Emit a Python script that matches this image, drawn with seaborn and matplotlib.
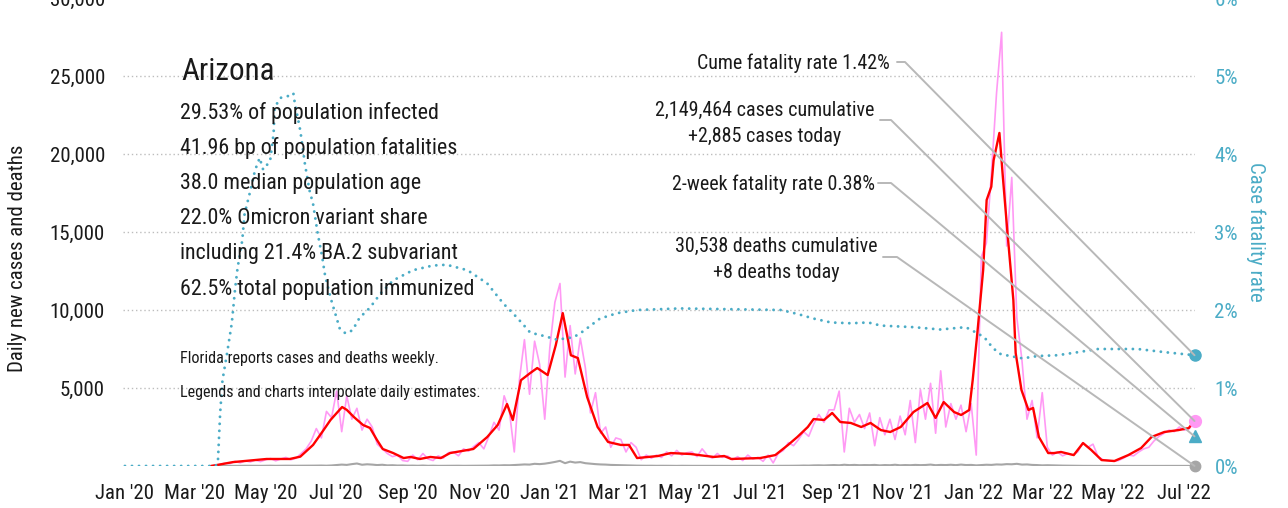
import matplotlib
matplotlib.use("Agg")
import matplotlib.pyplot as plt
import matplotlib.dates as mdates
import matplotlib.font_manager as fm
from matplotlib.lines import Line2D
import numpy as np
import pandas as pd
import seaborn as sns

# ---------------- data ----------------
# 7-day average of daily new cases (red line), key points
red_dates = ["2020-03-15", "2020-03-20", "2020-04-03", "2020-05-02", "2020-05-22", "2020-05-31",
             "2020-06-11", "2020-06-20", "2020-06-26", "2020-07-02", "2020-07-06", "2020-07-10",
             "2020-07-16", "2020-07-24", "2020-07-30", "2020-08-05", "2020-08-10", "2020-08-19",
             "2020-08-28", "2020-09-03", "2020-09-11", "2020-09-20", "2020-09-29", "2020-10-07",
             "2020-10-27", "2020-11-08", "2020-11-17", "2020-11-25", "2020-11-30", "2020-12-07",
             "2020-12-15", "2020-12-21", "2020-12-30", "2021-01-06", "2021-01-12", "2021-01-16",
             "2021-01-19", "2021-01-25", "2021-02-02", "2021-02-11", "2021-02-20", "2021-03-03",
             "2021-03-10", "2021-03-17", "2021-04-04", "2021-04-15", "2021-05-02", "2021-05-22",
             "2021-05-31", "2021-06-06", "2021-07-01", "2021-07-14", "2021-07-25", "2021-08-02",
             "2021-08-11", "2021-08-16", "2021-08-25", "2021-09-01", "2021-09-08", "2021-09-17",
             "2021-09-26", "2021-10-04", "2021-10-13", "2021-10-21", "2021-10-30", "2021-11-10",
             "2021-11-22", "2021-11-29", "2021-12-06", "2021-12-15", "2021-12-21", "2021-12-28",
             "2021-12-31", "2022-01-04", "2022-01-09", "2022-01-12", "2022-01-16", "2022-01-18",
             "2022-01-23", "2022-01-26", "2022-01-30", "2022-02-04", "2022-02-06", "2022-02-11",
             "2022-02-17", "2022-02-21", "2022-02-26", "2022-03-06", "2022-03-11", "2022-03-17",
             "2022-03-28", "2022-04-05", "2022-04-12", "2022-04-21", "2022-05-02", "2022-05-14",
             "2022-05-25", "2022-06-03", "2022-06-14", "2022-06-26", "2022-07-05", "2022-07-10"]
red_cases = [0, 60, 250, 450, 450, 600,
             1350, 2300, 2950, 3450, 3780, 3600,
             3150, 2630, 2440, 1670, 1090, 830,
             510, 580, 450, 580, 510, 830,
             1090, 1860, 2630, 3970, 2950, 5500,
             5960, 6280, 5830, 7750, 9800, 8270,
             7100, 6920, 4420, 2500, 1540, 1350,
             1350, 510, 640, 830, 770, 580,
             640, 450, 510, 700, 1350, 1860,
             2500, 3010, 2950, 3400, 2820, 2760,
             2500, 2760, 2300, 2180, 2500, 3460,
             4040, 3080, 4100, 3460, 3270, 3590,
             5510, 8520, 12560, 17050, 17900, 19600,
             21350, 18500, 14900, 10640, 7240, 4870,
             3590, 3720, 1860, 830, 830, 900,
             700, 1470, 1030, 380, 320, 700,
             1150, 1860, 2180, 2300, 2430, 2885]

# raw daily reported cases (pink), ~7 readings per month, 2020-03-14 .. 2022-07-10
raw_start, raw_end = "2020-03-14", "2022-07-10"
raw_cases = [
    0, 30, 100, 180,                                   # Mar 2020 (2nd half)
    150, 300, 200, 330, 260, 380, 280,                 # Apr 2020
    400, 480, 330, 450, 550, 400, 500,                 # May
    800, 1100, 1600, 2400, 1800, 3500, 3100,           # Jun
    4800, 2200, 4500, 3000, 3700, 2300, 3000,          # Jul
    2500, 1400, 1100, 800, 600, 700, 350,              # Aug
    300, 700, 400, 800, 450, 350, 650,                 # Sep
    500, 850, 900, 650, 1100, 950, 1250,               # Oct
    1500, 1100, 1900, 2800, 2300, 4500, 3600,          # Nov
    900, 5500, 8100, 4600, 8000, 6500, 3000,           # Dec
    7600, 10500, 11700, 5700, 9000, 5900, 8200,        # Jan 2021
    6300, 3400, 4700, 2100, 2500, 1200, 1800,          # Feb
    1700, 900, 1500, 1200, 400, 700, 500,              # Mar
    700, 550, 900, 650, 1000, 700, 850,                # Apr
    900, 600, 1100, 700, 500, 800, 550,                # May
    650, 400, 600, 350, 700, 450, 550,                 # Jun
    300, 700, 200, 800, 1000, 1500, 1300,              # Jul
    1700, 2200, 1900, 2700, 3300, 2800, 3600,          # Aug
    3600, 4800, 900, 3700, 2800, 3300, 2400,           # Sep
    3400, 1300, 3100, 2000, 3000, 1700, 3200,          # Oct
    2000, 4200, 1500, 4900, 3000, 5300, 2100,          # Nov
    6100, 2500, 4000, 3000, 3900, 2200, 4000,          # Dec
    700, 13400, 14300, 18800, 23900, 27800, 14100,     # Jan 2022
    18500, 9500, 6800, 3000, 4200, 1800, 4700,         # Feb
    1200, 700, 900, 650, 800, 700, 900,                # Mar
    1500, 1200, 1400, 600, 400, 350, 300,              # Apr
    350, 500, 700, 650, 900, 1100, 1200,               # May
    1600, 1900, 2100, 2300, 2200, 2500, 2300,          # Jun
    2400, 2885]                                        # Jul

# daily deaths (grey), same reading dates as raw cases
raw_deaths = [
    0, 1, 3, 5,
    8, 12, 10, 15, 12, 14, 10,
    15, 20, 12, 18, 20, 15, 17,
    18, 22, 15, 25, 30, 20, 35,
    60, 90, 70, 120, 160, 80, 110,
    90, 60, 80, 40, 50, 30, 35,
    20, 25, 15, 30, 12, 20, 10,
    12, 15, 10, 18, 12, 15, 20,
    20, 30, 25, 40, 35, 50, 45,
    60, 80, 100, 90, 140, 120, 150,
    200, 260, 330, 180, 280, 220, 250,
    180, 150, 120, 100, 90, 70, 60,
    50, 40, 30, 25, 20, 15, 18,
    12, 15, 10, 12, 8, 14, 10,
    10, 12, 8, 10, 9, 12, 8,
    8, 10, 7, 12, 9, 8, 10,
    8, 10, 6, 12, 10, 14, 16,
    20, 30, 25, 40, 45, 35, 50,
    60, 45, 80, 55, 70, 50, 60,
    55, 70, 40, 60, 50, 80, 45,
    60, 50, 70, 55, 65, 90, 50,
    70, 60, 80, 55, 90, 60, 70,
    40, 60, 80, 70, 100, 90, 120,
    110, 140, 90, 100, 70, 60, 40,
    50, 40, 30, 25, 20, 15, 12,
    10, 8, 12, 6, 8, 5, 7,
    5, 6, 4, 8, 5, 6, 4,
    5, 4, 6, 5, 7, 5, 6,
    6, 8]

# case fatality rate (%), right axis
cfr_dates = ["2020-01-01", "2020-03-19", "2020-03-21", "2020-03-23", "2020-03-25", "2020-03-29",
             "2020-04-02", "2020-04-05", "2020-04-07", "2020-04-11", "2020-04-13", "2020-04-18",
             "2020-04-22", "2020-04-26", "2020-04-29", "2020-05-05", "2020-05-08", "2020-05-09",
             "2020-05-14", "2020-05-20", "2020-05-25", "2020-05-26", "2020-05-31", "2020-06-04",
             "2020-06-08", "2020-06-11", "2020-06-15", "2020-06-19", "2020-06-21", "2020-06-26",
             "2020-06-30", "2020-07-04", "2020-07-09", "2020-07-15", "2020-07-21", "2020-07-30",
             "2020-08-08", "2020-08-19", "2020-09-05", "2020-09-22", "2020-10-04", "2020-10-22",
             "2020-11-08", "2020-11-22", "2020-11-30", "2020-12-08", "2020-12-15", "2020-12-26",
             "2021-01-07", "2021-01-21", "2021-01-27", "2021-02-05", "2021-02-13", "2021-02-28",
             "2021-03-17", "2021-04-23", "2021-07-19", "2021-08-02", "2021-08-16", "2021-08-31",
             "2021-09-17", "2021-10-02", "2021-10-13", "2021-11-10", "2021-12-03", "2021-12-25",
             "2022-01-03", "2022-01-10", "2022-01-17", "2022-01-23", "2022-02-01", "2022-02-12",
             "2022-02-25", "2022-03-14", "2022-04-01", "2022-04-18", "2022-05-22", "2022-06-14",
             "2022-07-10"]
cfr_pct = [0.0, 0.0, 0.04, 0.68, 1.10, 1.45,
           1.83, 2.29, 2.54, 2.89, 3.23, 3.53,
           3.79, 3.95, 3.80, 3.91, 4.26, 4.60,
           4.72, 4.74, 4.78, 4.68, 4.30, 3.87,
           3.53, 3.36, 2.98, 2.67, 2.47, 2.16,
           1.96, 1.76, 1.70, 1.74, 1.90, 2.03,
           2.21, 2.38, 2.51, 2.57, 2.58, 2.51,
           2.34, 2.08, 1.96, 1.83, 1.71, 1.67,
           1.62, 1.65, 1.70, 1.80, 1.89, 1.96,
           2.00, 2.02, 2.00, 1.95, 1.89, 1.84,
           1.83, 1.84, 1.80, 1.78, 1.75, 1.78,
           1.71, 1.65, 1.52, 1.44, 1.41, 1.38,
           1.41, 1.42, 1.46, 1.50, 1.50, 1.46,
           1.42]

# end-of-series markers
last_date = "2022-07-10"
last_cases = 2885
last_deaths = 8
cume_cfr = 1.42
two_week_cfr = 0.38

title = "Arizona"
stats_lines = ["29.53% of population infected",
               "41.96 bp of population fatalities",
               "38.0 median population age",
               "22.0% Omicron variant share",
               "including 21.4% BA.2 subvariant",
               "62.5% total population immunized"]
note_lines = ["Florida reports cases and deaths weekly.",
              "Legends and charts interpolate daily estimates."]

left_ticks = [5000, 10000, 15000, 20000, 25000, 30000]
right_ticks = [0, 1, 2, 3, 4, 5, 6]

# ---------------- styling ----------------
sns.set_theme(style="white")
avail = {f.name for f in fm.fontManager.ttflist}
FONT = next((f for f in ["Liberation Sans Narrow", "Roboto Condensed", "DejaVu Sans"] if f in avail),
            "DejaVu Sans")
plt.rcParams["font.family"] = [FONT, "DejaVu Sans"]

PINK = "#ff99f4"
RED = "#ff0000"
GREY = "#a6a6a6"
TEAL = "#4bacc6"
CONN = "#b8b8b8"
TXT = "#1a1a1a"

W, H = 1288, 508
fig = plt.figure(figsize=(W / 100, H / 100), dpi=100)
fig.patch.set_facecolor("white")
ax = fig.add_axes([123 / W, 1 - 466 / H, (1195 - 123) / W, 468 / H])
ax2 = ax.twinx()

df_red = pd.DataFrame({"date": pd.to_datetime(red_dates), "cases": red_cases})
raw_idx = pd.date_range(raw_start, raw_end, periods=len(raw_cases))
df_raw = pd.DataFrame({"date": raw_idx, "cases": raw_cases, "deaths": raw_deaths})
df_cfr = pd.DataFrame({"date": pd.to_datetime(cfr_dates), "cfr": cfr_pct})

sns.lineplot(data=df_raw, x="date", y="cases", ax=ax, color=PINK, linewidth=1.2, zorder=2)
sns.lineplot(data=df_raw, x="date", y="deaths", ax=ax, color=GREY, linewidth=1.5, zorder=3)
sns.lineplot(data=df_red, x="date", y="cases", ax=ax, color=RED, linewidth=1.7, zorder=4)
sns.lineplot(data=df_cfr, x="date", y="cfr", ax=ax2, color=TEAL, linewidth=2.1,
             linestyle=(0, (0.01, 2.4)), dash_capstyle="round", zorder=5)

ld = pd.to_datetime(last_date)
ax.plot([ld], [last_cases], "o", color=PINK, ms=8.5, clip_on=False, zorder=6)
ax.plot([ld], [last_deaths], "o", color=GREY, ms=7.5, clip_on=False, zorder=6)
ax2.plot([ld], [cume_cfr], "o", color=TEAL, ms=8, clip_on=False, zorder=6)
ax2.plot([ld], [two_week_cfr], "^", color=TEAL, ms=8.5, clip_on=False, zorder=6)

# axes limits / ticks
xmin = pd.Timestamp("2019-12-30 08:00")
xmax = pd.Timestamp("2022-07-10 10:00")
ax.set_xlim(xmin, xmax)
ax.set_ylim(0, 30000)
ax2.set_ylim(0, 6)

ax.set_yticks(left_ticks)
ax.set_yticklabels([f"{v:,}" for v in left_ticks])
ax2.set_yticks(right_ticks)
ax2.set_yticklabels([f"{v}%" for v in right_ticks])
ax.xaxis.set_major_locator(mdates.MonthLocator(bymonth=[1, 3, 5, 7, 9, 11]))
ax.xaxis.set_major_formatter(mdates.DateFormatter("%b '%y"))

for a in (ax, ax2):
    for s in a.spines.values():
        s.set_visible(False)
    a.set_xlabel("")
    a.set_ylabel("")
    a.grid(False)
ax.tick_params(axis="both", length=0, labelsize=15, colors=TXT)
ax.tick_params(axis="y", pad=13)
ax.tick_params(axis="x", pad=13)
ax2.tick_params(axis="y", length=0, labelsize=15, colors=TEAL, pad=14)

# dotted gridlines
for v in left_ticks:
    ax.axhline(v, color="#bdbdbd", linewidth=1.0, linestyle=(0, (1, 2)), zorder=1)

fig.text(18 / W, 1 - 258 / H, "Daily new cases and deaths", rotation=90, ha="center", va="center",
         fontsize=15, color=TXT)
fig.text(1256 / W, 1 - 232 / H, "Case fatality rate", rotation=270, ha="center", va="center",
         fontsize=15, color=TEAL)

# text block
fig.text(181 / W, 1 - 72 / H, title, ha="left", va="center", fontsize=22.3, color=TXT, zorder=10)
for i, line in enumerate(stats_lines):
    fig.text(180 / W, 1 - (112.5 + i * 35.3) / H, line, ha="left", va="center", fontsize=15.8,
             color=TXT, zorder=10)
for i, line in enumerate(note_lines):
    fig.text(180 / W, 1 - (359 + i * 34) / H, line, ha="left", va="center", fontsize=11.6,
             color=TXT, zorder=10)

# annotations
ANN = 14.4
fig.text(890 / W, 1 - 63 / H, "Cume fatality rate 1.42%", ha="right", va="center", fontsize=ANN, color=TXT)
fig.text(765 / W, 1 - 110 / H, "2,149,464 cases cumulative", ha="center", va="center", fontsize=ANN, color=TXT)
fig.text(765 / W, 1 - 137 / H, "+2,885 cases today", ha="center", va="center", fontsize=ANN, color=TXT)
fig.text(875 / W, 1 - 184 / H, "2-week fatality rate 0.38%", ha="right", va="center", fontsize=ANN, color=TXT)
fig.text(776 / W, 1 - 246 / H, "30,538 deaths cumulative", ha="center", va="center", fontsize=ANN, color=TXT)
fig.text(776 / W, 1 - 272 / H, "+8 deaths today", ha="center", va="center", fontsize=ANN, color=TXT)

fig.canvas.draw()
inv = fig.transFigure.inverted()
xnum = mdates.date2num(ld)


def connector(x0, x1, y, axis, yval):
    px, py = axis.transData.transform((xnum, yval))
    pts_px = np.array([[x0, H - y], [x1, H - y], [px, py]])
    pts = inv.transform(pts_px)
    fig.add_artist(Line2D(pts[:, 0], pts[:, 1], transform=fig.transFigure, color=CONN,
                          linewidth=1.4, zorder=1))


connector(897, 905, 62, ax2, cume_cfr)
connector(880, 891, 120, ax, last_cases)
connector(878, 891, 183, ax2, two_week_cfr)
connector(883, 897, 257, ax, last_deaths)

fig.savefig("out.png", dpi=100, facecolor="white")
